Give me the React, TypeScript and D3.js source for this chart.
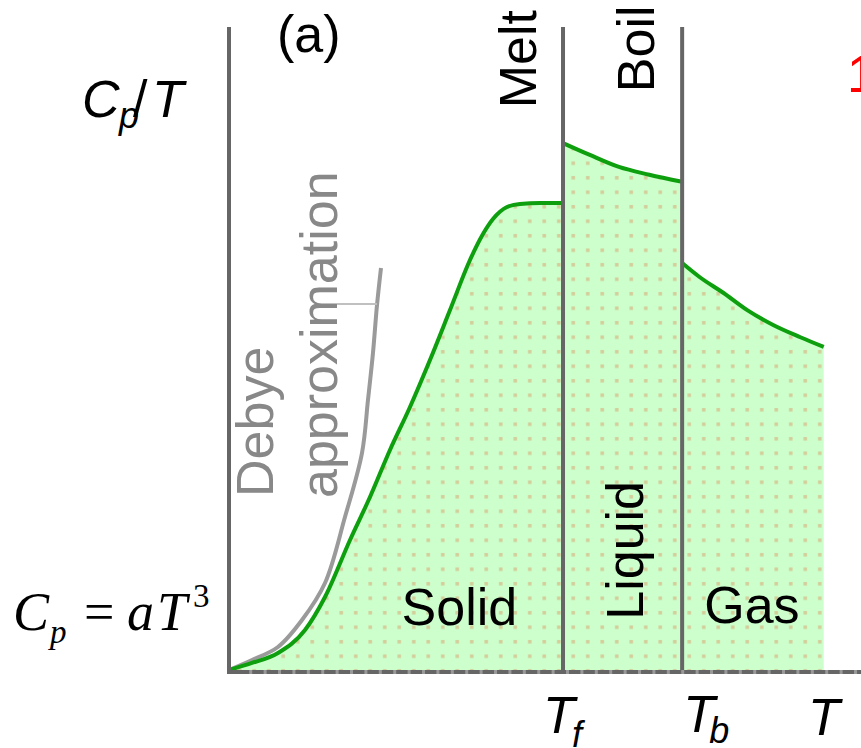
import React, { useEffect, useRef } from 'react';
import * as d3 from 'd3';

// x = temperature, y = Cp/T, both in arbitrary units (0..100)
const solidT = [0, 3.64, 7.75, 12.03, 15.19, 19.15, 22.31, 25.47, 28.64, 31.8, 34.97, 38.13, 40.19, 41.77, 43.99, 46.04, 49.21, 52.85];
const solidCp = [0.31, 1.4, 2.95, 6.51, 11.63, 20.47, 27.13, 34.42, 41.09, 48.37, 56.12, 63.88, 67.91, 70.23, 72.09, 72.56, 72.71, 72.71];

const liquidT = [52.85, 57.0, 61.7, 66.5, 71.7];
const liquidCp = [82.0, 80.2, 78.3, 77.1, 76.0];

const gasT = [71.7, 74.5, 78.2, 82.0, 86.1, 90.4, 94.1];
const gasCp = [63.4, 61.2, 58.8, 56.1, 53.8, 51.9, 50.4];

const debyeT = [0, 3.64, 7.75, 11.55, 15.19, 18.35, 21.04, 21.99, 22.78, 23.42, 24.05];
const debyeCp = [0.31, 1.86, 3.88, 8.06, 13.8, 24.03, 33.95, 42.17, 49.46, 56.9, 62.64];

const Tf = 52.85;
const Tb = 71.7;

const phaseLabels = [
  { text: 'Solid', T: 27.3, Cp: 7.3, rotate: false },
  { text: 'Gas', T: 75.2, Cp: 7.6, rotate: false },
  { text: 'Liquid', T: 65.5, Cp: 8.1, rotate: true },
  { text: 'Melt', T: 48.6, Cp: 87.4, rotate: true },
  { text: 'Boil', T: 67.2, Cp: 89.9, rotate: true },
];

const W = 861;
const H = 748;

const HeatCapacityChart = () => {
  const svgRef = useRef<SVGSVGElement>(null);

  useEffect(() => {
    const svg = d3.select(svgRef.current);
    svg.selectAll('*').remove();

    const x = d3.scaleLinear().domain([0, 100]).range([229, 861]);
    const y = d3.scaleLinear().domain([0, 100]).range([672, 27]);

    const sans = '"Liberation Sans", Arial, sans-serif';
    const serif = '"Liberation Serif", "Times New Roman", serif';

    // dotted pattern on the shaded area
    const defs = svg.append('defs');
    const pat = defs.append('pattern')
      .attr('id', 'dots')
      .attr('patternUnits', 'userSpaceOnUse')
      .attr('width', 14.5)
      .attr('height', 14.5);
    pat.append('rect')
      .attr('x', 6).attr('y', 2)
      .attr('width', 3.5).attr('height', 3.5)
      .attr('fill', '#d4cc99');

    const zip = (ts: number[], vs: number[]) => ts.map((t, i) => [t, vs[i]] as [number, number]);
    const segments = [zip(solidT, solidCp), zip(liquidT, liquidCp), zip(gasT, gasCp)];

    const area = d3.area<[number, number]>()
      .x(d => x(d[0]))
      .y0(y(0))
      .y1(d => y(d[1]))
      .curve(d3.curveMonotoneX);

    segments.forEach(seg => {
      svg.append('path').attr('d', area(seg)).attr('fill', '#ccffcc');
      svg.append('path').attr('d', area(seg)).attr('fill', 'url(#dots)');
    });

    // Debye T^3 approximation
    const debyeLine = d3.line<[number, number]>()
      .x(d => x(d[0]))
      .y(d => y(d[1]))
      .curve(d3.curveCatmullRom.alpha(0.5));
    svg.append('path')
      .attr('d', debyeLine(zip(debyeT, debyeCp)))
      .attr('fill', 'none')
      .attr('stroke', '#9a9a9a')
      .attr('stroke-width', 4);

    // leader from label to the Debye curve
    svg.append('line')
      .attr('x1', x(17.1)).attr('x2', x(23.4))
      .attr('y1', y(57.05)).attr('y2', y(57.05))
      .attr('stroke', '#c0c0c0')
      .attr('stroke-width', 2);

    // the measured curves
    const line = d3.line<[number, number]>()
      .x(d => x(d[0]))
      .y(d => y(d[1]))
      .curve(d3.curveMonotoneX);
    segments.forEach(seg => {
      svg.append('path')
        .attr('d', line(seg))
        .attr('fill', 'none')
        .attr('stroke', '#0d9f0d')
        .attr('stroke-width', 4);
    });

    // axes and the phase boundaries
    [0, Tf, Tb].forEach(t => {
      svg.append('line')
        .attr('x1', x(t)).attr('x2', x(t))
        .attr('y1', y(100)).attr('y2', y(0) + 2)
        .attr('stroke', '#666')
        .attr('stroke-width', 4);
    });
    svg.append('line')
      .attr('x1', x(0)).attr('x2', x(100))
      .attr('y1', y(0)).attr('y2', y(0))
      .attr('stroke', '#666')
      .attr('stroke-width', 4);
    svg.append('line')
      .attr('x1', x(3.2)).attr('x2', x(100))
      .attr('y1', y(0)).attr('y2', y(0))
      .attr('stroke', '#999')
      .attr('stroke-width', 4)
      .attr('stroke-dasharray', '3 11.4');

    // phase labels
    phaseLabels.forEach(l => {
      const t = svg.append('text')
        .attr('font-family', sans)
        .attr('font-size', 52)
        .attr('fill', '#000')
        .text(l.text);
      if (l.rotate) t.attr('transform', `translate(${x(l.T)},${y(l.Cp)}) rotate(-90)`);
      else t.attr('x', x(l.T)).attr('y', y(l.Cp));
    });

    svg.append('text')
      .attr('transform', `translate(273,497) rotate(-90)`)
      .attr('font-family', sans).attr('font-size', 52).attr('fill', '#888')
      .text('Debye');
    svg.append('text')
      .attr('transform', `translate(337,498) rotate(-90)`)
      .attr('font-family', sans).attr('font-size', 52).attr('fill', '#888')
      .text('approximation');

    svg.append('text')
      .attr('x', 277).attr('y', 52)
      .attr('font-family', sans).attr('font-size', 52)
      .text('(a)');

    // y axis label  Cp/T
    const yl = svg.append('g').attr('font-family', sans).attr('font-style', 'italic');
    yl.append('text').attr('x', 82).attr('y', 117).attr('font-size', 52).text('C');
    yl.append('text').attr('x', 119).attr('y', 128).attr('font-size', 36).text('p');
    yl.append('text').attr('x', 133).attr('y', 117).attr('font-size', 52).attr('font-style', 'normal').text('/');
    yl.append('text').attr('x', 152).attr('y', 117).attr('font-size', 52).text('T');

    // Cp = aT^3
    const eq = svg.append('g').attr('font-family', serif);
    eq.append('text').attr('x', 13).attr('y', 630).attr('font-size', 54).attr('font-style', 'italic').text('C');
    eq.append('text').attr('x', 50).attr('y', 643).attr('font-size', 33).attr('font-style', 'italic').text('p');
    eq.append('text').attr('x', 84).attr('y', 630).attr('font-size', 54).text('=');
    eq.append('text').attr('x', 127).attr('y', 630).attr('font-size', 54).attr('font-style', 'italic').text('a');
    eq.append('text').attr('x', 157).attr('y', 630).attr('font-size', 54).attr('font-style', 'italic').text('T');
    eq.append('text').attr('x', 193).attr('y', 607).attr('font-size', 33).text('3');

    // x axis labels
    const xl = svg.append('g').attr('font-family', sans).attr('font-style', 'italic');
    xl.append('text').attr('x', x(Tf) - 20).attr('y', 733).attr('font-size', 52).text('T');
    xl.append('text').attr('x', x(Tf) + 9).attr('y', 747).attr('font-size', 36).text('f');
    xl.append('text').attr('x', x(Tb) + 1).attr('y', 732).attr('font-size', 52).text('T');
    xl.append('text').attr('x', x(Tb) + 27).attr('y', 743).attr('font-size', 36).text('b');
    xl.append('text').attr('x', 808).attr('y', 735).attr('font-size', 52).text('T');

    // cut-off red mark at the right edge
    svg.append('text')
      .attr('x', 847).attr('y', 92)
      .attr('font-family', sans).attr('font-size', 52)
      .attr('fill', '#ff0000')
      .text('1');
  }, []);

  return (
    <svg
      ref={svgRef}
      width={W}
      height={H}
      style={{ position: 'absolute', left: 0, top: 0, background: '#fff' }}
    />
  );
};

export default function App() {
  return <HeatCapacityChart />;
}
